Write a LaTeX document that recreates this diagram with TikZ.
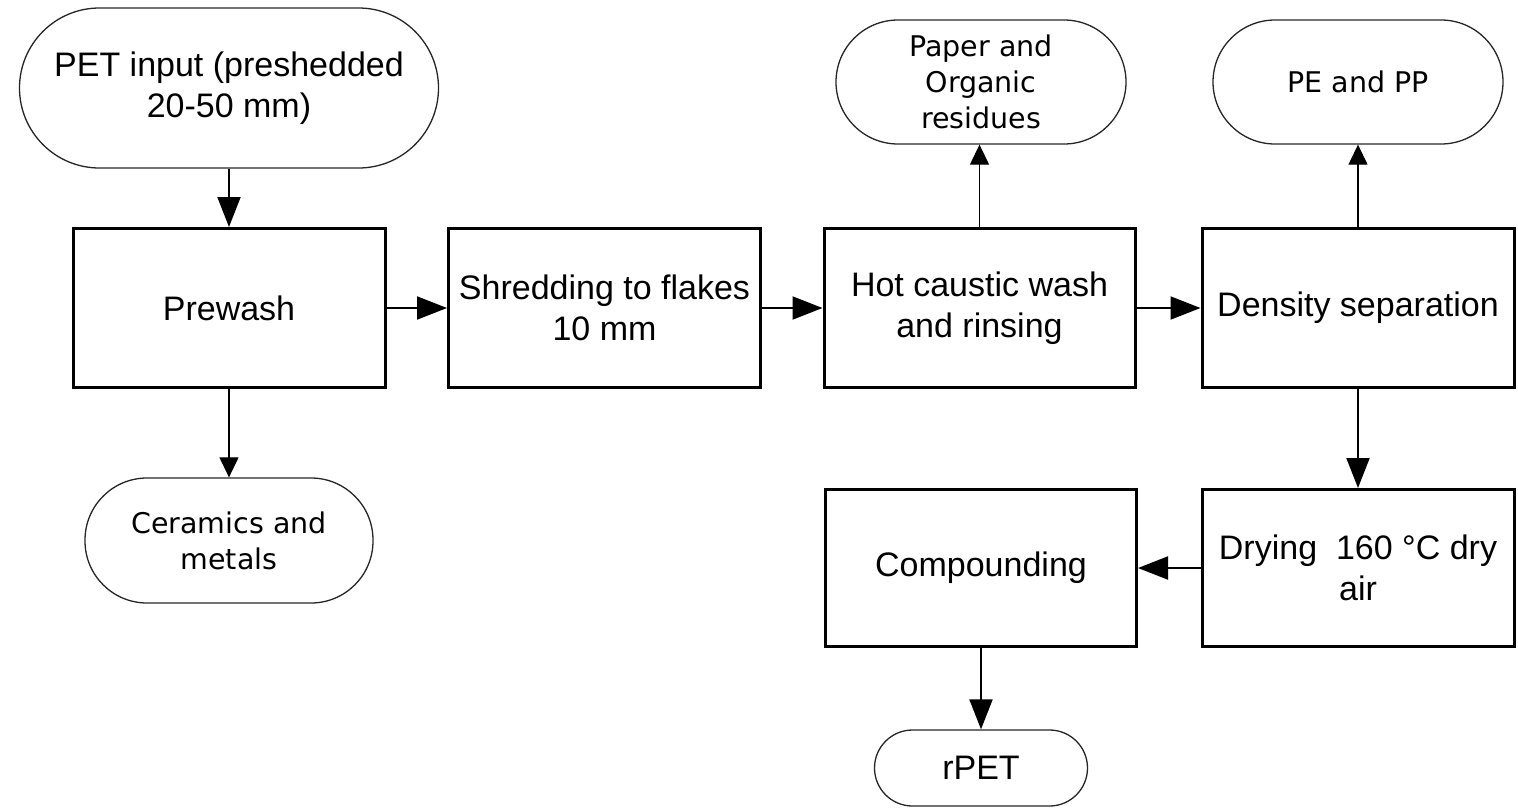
\documentclass[tikz,border=0pt]{standalone}
\usepackage{fontspec}
\setmainfont{Liberation Sans}
\newfontfamily\verd{DejaVu Sans}
\usetikzlibrary{arrows.meta}
\tikzset{
  procbox/.style={draw=black, line width=3pt, inner sep=0pt, align=center,
    font=\fontsize{34}{41}\selectfont},
  termA/.style={draw=black!85, line width=1.3pt, inner sep=0pt, align=center,
    font=\fontsize{34}{41}\selectfont},
  termB/.style={draw=black!85, line width=1.3pt, inner sep=0pt, align=center,
    font=\verd\fontsize{28.5}{36}\selectfont},
  mainarrow/.style={line width=2pt, -{Triangle[length=30pt,width=23pt]}},
  thinarrow/.style={line width=1.2pt, -{Triangle[length=20pt,width=19pt]}},
}
\begin{document}
\begin{tikzpicture}[x=1pt,y=-1pt]
\useasboundingbox (0,0) rectangle (1518,809);
% terminals
\node[termA, minimum width=419pt, minimum height=160pt, rounded corners=80pt] (pet) at (229,88) {PET input (preshedded\\20-50 mm)};
\node[termB, minimum width=290pt, minimum height=124pt, rounded corners=62pt] (paper) at (981,82) {Paper and\\Organic\\residues};
\node[termB, minimum width=290pt, minimum height=124pt, rounded corners=62pt] (pepp) at (1358,82) {PE and PP};
\node[termB, minimum width=288pt, minimum height=125pt, rounded corners=62pt] (cer) at (229,540.5) {Ceramics and\\metals};
\node[termA, minimum width=213pt, minimum height=76pt, rounded corners=38pt] (rpet) at (981,768) {rPET};
% process boxes
\node[procbox, minimum width=312pt, minimum height=159pt] (prewash) at (229,308) {Prewash};
\node[procbox, minimum width=312pt, minimum height=159pt] (shred) at (604.5,308) {Shredding to flakes\\10 mm};
\node[procbox, minimum width=311pt, minimum height=159pt] (hot) at (979.5,308) {Hot caustic wash\\and rinsing};
\node[procbox, minimum width=312pt, minimum height=159pt] (dens) at (1358,308) {Density separation};
\node[procbox, minimum width=311pt, minimum height=157pt] (comp) at (981,568) {Compounding};
\node[procbox, minimum width=312pt, minimum height=157pt] (dry) at (1358,568) {Drying\ \ 160 °C dry\\air};
% connectors
\draw[mainarrow] (pet.south) -- (pet.south |- prewash.north);
\draw[mainarrow] (prewash.east) -- (prewash.east -| shred.west);
\draw[mainarrow] (shred.east) -- (shred.east -| hot.west);
\draw[mainarrow] (hot.east) -- (hot.east -| dens.west);
\draw[thinarrow] (hot.north) -- (hot.north |- paper.south);
\draw[thinarrow] (dens.north) -- (dens.north |- pepp.south);
\draw[mainarrow] (dens.south) -- (dens.south |- dry.north);
\draw[mainarrow] (dry.west) -- (dry.west -| comp.east);
\draw[mainarrow] (comp.south) -- (comp.south |- rpet.north);
\draw[thinarrow] (prewash.south) -- (prewash.south |- cer.north);
\end{tikzpicture}
\end{document}
